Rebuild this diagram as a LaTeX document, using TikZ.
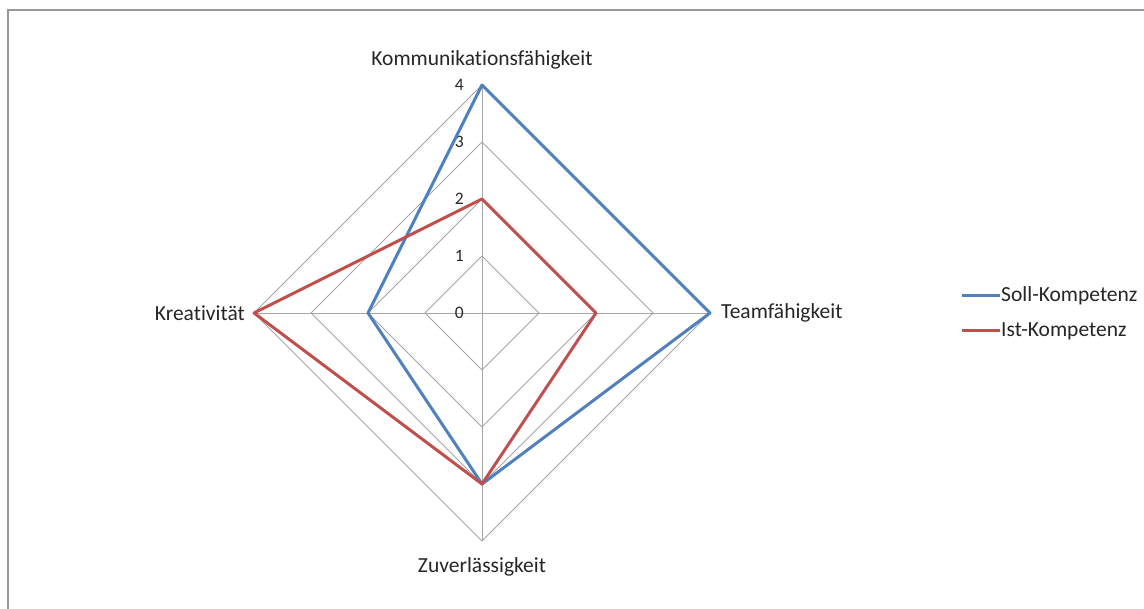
\documentclass[tikz,border=0pt]{standalone}
\usepackage{fontspec}
\setmainfont{Carlito}[Ligatures={NoCommon}]
\definecolor{sollblue}{HTML}{4F81BD}
\definecolor{istred}{HTML}{C0504D}
\definecolor{gridgray}{HTML}{A6A6A6}
\definecolor{framegray}{HTML}{999999}
\begin{document}
\begin{tikzpicture}[x=1pt,y=-1pt,
  gridline/.style={draw=gridgray,line width=0.9pt},
  axislabel/.style={font=\fontsize{21.5}{24}\selectfont,text=black!85,inner sep=0pt},
  ticklabel/.style={font=\fontsize{17.5}{20}\selectfont,text=black!85,inner sep=0pt,anchor=east},
  series/.style={line width=3pt,line join=round},
  legendtext/.style={font=\fontsize{21.5}{24}\selectfont,text=black!85,inner sep=0pt,anchor=west}]
\useasboundingbox (0,0) rectangle (1144,609);
% outer frame (top and left edges)
\draw[framegray,line width=2pt] (7.5,609) -- (7.5,10.5) -- (1144,10.5);
% radar geometry: centre and 57pt per unit
\coordinate (c) at (482,313);
\def\u{57}
% grid diamonds
\foreach \r in {1,2,3,4}{
  \draw[gridline] (482,313-\r*\u) -- (482+\r*\u,313) -- (482,313+\r*\u) -- (482-\r*\u,313) -- cycle;
}
% axes
\draw[gridline] (482,313-4*\u) -- (482,313+4*\u);
\draw[gridline] (482-4*\u,313) -- (482+4*\u,313);
% tick labels
\foreach \r in {0,1,2,3,4}{
  \node[ticklabel] (t\r) at (464,313-\r*\u) {\r};
}
% category labels
\node[axislabel] (komm) at (482,60) {Kommunikationsfähigkeit};
\node[axislabel,anchor=west] (team) at (721,313) {Teamfähigkeit};
\node[axislabel] (zuv) at (482,567) {Zuverlässigkeit};
\node[axislabel,anchor=east] (krea) at (245,313) {Kreativität};
% series
\draw[series,sollblue] (482,313-4*\u) -- (482+4*\u,313) -- (482,313+3*\u) -- (482-2*\u,313) -- cycle;
\draw[series,istred] (482,313-2*\u) -- (482+2*\u,313) -- (482,313+3*\u) -- (482-4*\u,313) -- cycle;
% legend
\coordinate (ls1) at (962,296);
\coordinate (le1) at (1000,296);
\coordinate (ls2) at (962,331);
\coordinate (le2) at (1000,331);
\draw[sollblue,line width=3pt] (ls1) -- (le1);
\draw[istred,line width=3pt] (ls2) -- (le2);
\node[legendtext] (soll) at (1001,296) {Soll-Kompetenz};
\node[legendtext] (ist) at (1001,331) {Ist-Kompetenz};
\end{tikzpicture}
\end{document}
